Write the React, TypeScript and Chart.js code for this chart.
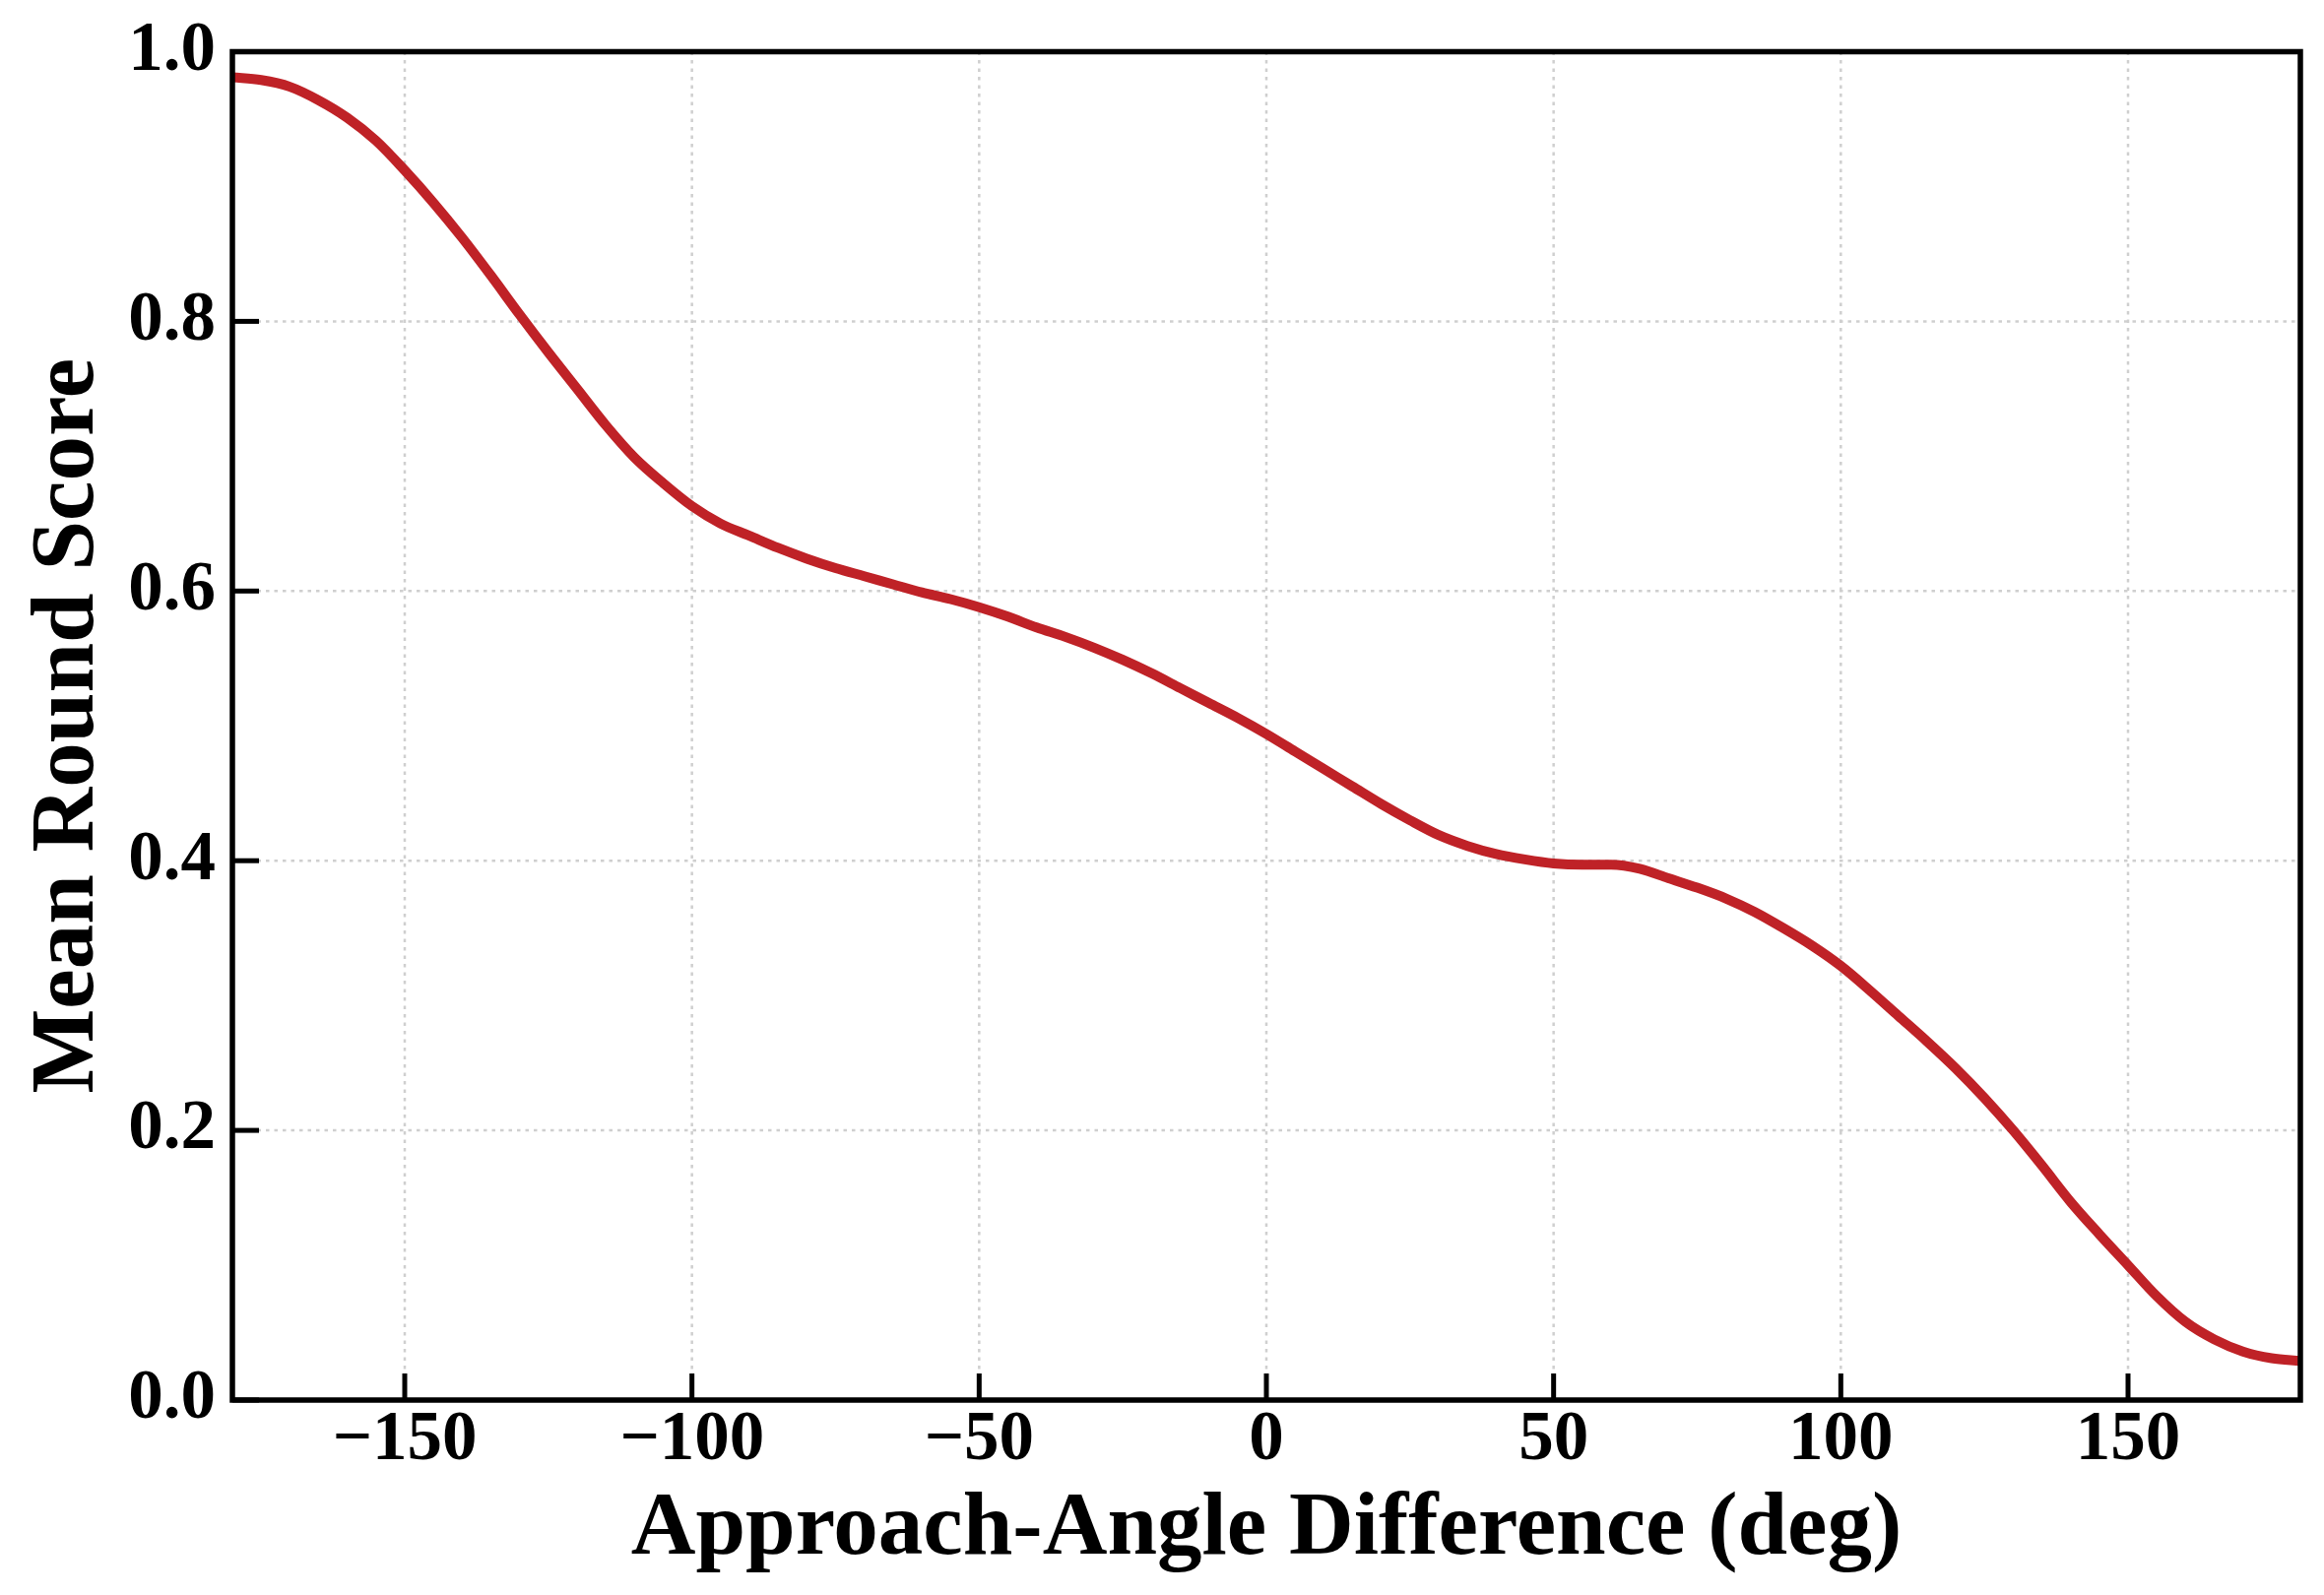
import { useEffect, useRef } from "react"
import { Chart, registerables } from "chart.js"

Chart.register(...registerables)

const angles = [
  -180, -175, -170, -165, -160, -155, -150, -145, -140, -135, -130, -125, -120, -115, -110, -105,
  -100, -95, -90, -85, -80, -75, -70, -65, -60, -55, -50, -45, -40, -35, -30, -25, -20, -15, -10, -5,
  0, 5, 10, 15, 20, 25, 30, 35, 40, 45, 50, 55, 60, 65, 70, 75, 80, 85, 90, 95,
  100, 105, 110, 115, 120, 125, 130, 135, 140, 145, 150, 155, 160, 165, 170, 175, 180,
]
const scores = [
  0.981, 0.979, 0.974, 0.964, 0.951, 0.934, 0.912, 0.888, 0.862, 0.834, 0.805, 0.777, 0.750, 0.723, 0.699, 0.680,
  0.663, 0.650, 0.641, 0.632, 0.624, 0.617, 0.611, 0.605, 0.599, 0.594, 0.588, 0.581, 0.573, 0.566, 0.558, 0.549, 0.539, 0.528, 0.517, 0.506,
  0.494, 0.481, 0.468, 0.455, 0.442, 0.430, 0.419, 0.411, 0.405, 0.401, 0.398, 0.397, 0.397, 0.394, 0.387, 0.380, 0.372, 0.362, 0.350, 0.337,
  0.322, 0.304, 0.285, 0.266, 0.246, 0.224, 0.200, 0.174, 0.147, 0.123, 0.100, 0.077, 0.058, 0.045, 0.036, 0.031, 0.029,
]
const xTicks = [-150, -100, -50, 0, 50, 100, 150]
const yTicks = [0, 0.2, 0.4, 0.6, 0.8, 1.0]

const FONT = "'Liberation Serif', 'Times New Roman', serif"

// frame, inward ticks and dotted grid, placed from the chart's own scales
const framePlugin = {
  id: "frame",
  beforeDatasetsDraw(chart: any) {
    const { ctx, chartArea: a, scales } = chart
    ctx.save()
    ctx.strokeStyle = "#cfcfcf"
    ctx.lineWidth = 2.5
    ctx.setLineDash([3.5, 5])
    for (const v of xTicks) {
      const px = scales.x.getPixelForValue(v)
      ctx.beginPath(); ctx.moveTo(px, a.top); ctx.lineTo(px, a.bottom); ctx.stroke()
    }
    for (const v of yTicks) {
      const py = scales.y.getPixelForValue(v)
      ctx.beginPath(); ctx.moveTo(a.left, py); ctx.lineTo(a.right, py); ctx.stroke()
    }
    ctx.restore()
  },
  afterDatasetsDraw(chart: any) {
    const { ctx, chartArea: a, scales } = chart
    ctx.save()
    ctx.strokeStyle = "#000"
    ctx.lineWidth = 5
    for (const v of xTicks) {
      const px = scales.x.getPixelForValue(v)
      ctx.beginPath(); ctx.moveTo(px, a.bottom); ctx.lineTo(px, a.bottom - 27); ctx.stroke()
    }
    for (const v of yTicks) {
      const py = scales.y.getPixelForValue(v)
      ctx.beginPath(); ctx.moveTo(a.left, py); ctx.lineTo(a.left + 27, py); ctx.stroke()
    }
    ctx.lineWidth = 5.5
    ctx.strokeRect(a.left, a.top, a.right - a.left, a.bottom - a.top)
    ctx.restore()
  },
}

export default function App() {
  const canvasRef = useRef<HTMLCanvasElement>(null)
  const chartRef = useRef<Chart | null>(null)

  useEffect(() => {
    document.body.style.margin = "0"
    if (!canvasRef.current) return
    chartRef.current?.destroy()

    chartRef.current = new Chart(canvasRef.current, {
      type: "line",
      data: {
        datasets: [
          {
            label: "Mean Round Score",
            data: angles.map((a, i) => ({ x: a, y: scores[i] })),
            borderColor: "#bf2227",
            borderWidth: 10,
            pointRadius: 0,
            fill: false,
            cubicInterpolationMode: "monotone",
            borderCapStyle: "butt",
          },
        ],
      },
      plugins: [framePlugin],
      options: {
        animation: false,
        responsive: true,
        maintainAspectRatio: false,
        devicePixelRatio: 1,
        layout: { padding: { top: 45, right: 24, left: 0, bottom: 0 } },
        plugins: { legend: { display: false }, tooltip: { enabled: false } },
        scales: {
          x: {
            type: "linear",
            min: -180,
            max: 180,
            afterBuildTicks: (s: any) => { s.ticks = xTicks.map(v => ({ value: v })) },
            afterFit: (s: any) => { s.height = 198 },
            grid: { display: false, drawTicks: false },
            border: { display: false },
            ticks: {
              color: "#000",
              padding: 6,
              maxRotation: 0,
              font: { family: FONT, size: 71, weight: "bold", lineHeight: 1 },
              callback: (v: any) => (v < 0 ? "\u2212" + Math.abs(v) : String(v)),
            },
            title: {
              display: true,
              text: "Approach-Angle Difference (deg)",
              color: "#000",
              padding: { top: 0, bottom: 20 },
              font: { family: FONT, size: 91, weight: "bold", lineHeight: 1 },
            },
          },
          y: {
            min: 0,
            max: 1,
            afterBuildTicks: (s: any) => { s.ticks = yTicks.map(v => ({ value: v })) },
            afterFit: (s: any) => { s.width = 236 },
            grid: { display: false, drawTicks: false },
            border: { display: false },
            ticks: {
              color: "#000",
              padding: 17,
              font: { family: FONT, size: 71, weight: "bold", lineHeight: 1 },
              callback: (v: any) => Number(v).toFixed(1),
            },
            title: {
              display: true,
              text: "Mean Round Score",
              color: "#000",
              padding: { top: 25, bottom: 0 },
              font: { family: FONT, size: 91, weight: "bold", lineHeight: 1 },
            },
          },
        },
      },
    })

    return () => { chartRef.current?.destroy() }
  }, [])

  return (
    <div style={{ position: "absolute", left: 0, top: 0, width: 2360, height: 1620, background: "#fff" }}>
      <canvas ref={canvasRef} aria-label="Mean round score by approach-angle difference" role="img" />
    </div>
  )
}
